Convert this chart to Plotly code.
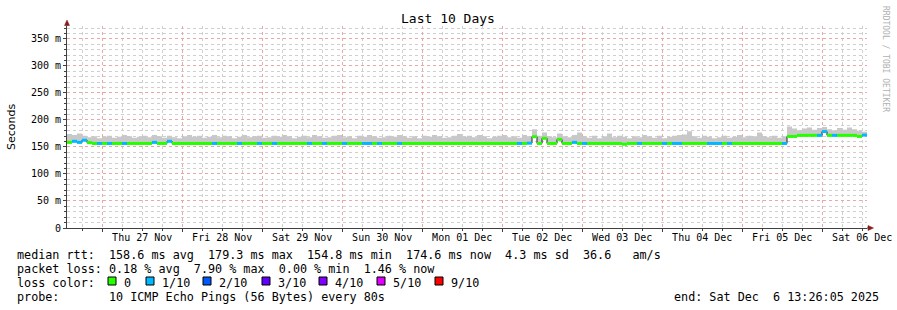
import numpy as np
import pandas as pd
import plotly.graph_objects as go

# ---------------- data ----------------
start_time = "2025-11-26 13:26:05"
end_time = "2025-12-06 13:26:05"
bin_minutes = 90

median_ms = [
    158.5, 160.5, 158.5, 162.5, 158.0, 156.5, 156.5, 156.5, 156.5, 156.5,
    156.5, 156.5, 156.5, 156.5, 156.5, 156.5, 156.5, 158.5, 156.5, 156.5,
    160.5, 156.5, 156.5, 156.5, 156.5, 156.5, 156.5, 156.5, 156.5, 156.5,
    156.5, 156.5, 156.5, 156.5, 156.5, 156.5, 156.5, 156.5, 156.5, 156.5,
    156.5, 156.5, 156.5, 156.5, 156.5, 156.5, 156.5, 156.5, 156.5, 156.5,
    156.5, 156.5, 156.5, 156.5, 156.5, 156.5, 156.5, 156.5, 156.5, 156.5,
    156.5, 156.5, 156.5, 156.5, 156.5, 156.5, 156.5, 156.5, 156.5, 156.5,
    156.5, 156.5, 156.5, 156.5, 156.5, 156.5, 156.5, 156.5, 156.5, 156.5,
    156.5, 156.5, 156.5, 156.5, 156.5, 156.5, 156.5, 156.5, 156.5, 156.5,
    156.5, 156.5, 157.0, 169.0, 156.5, 166.0, 156.5, 156.5, 164.0, 156.5,
    156.5, 158.5, 156.5, 156.5, 156.5, 156.5, 156.5, 156.5, 156.5, 156.5,
    156.5, 155.0, 156.5, 156.5, 156.5, 156.5, 156.5, 156.5, 156.5, 156.5,
    156.5, 156.5, 156.5, 156.5, 156.5, 156.5, 156.5, 156.5, 156.5, 156.5,
    156.5, 156.5, 156.5, 156.5, 156.5, 156.5, 156.5, 156.5, 156.5, 156.5,
    156.5, 156.5, 156.5, 156.5, 169.5, 169.5, 171.5, 171.5, 171.5, 171.5,
    171.5, 178.5, 171.5, 171.5, 171.5, 171.5, 171.5, 171.5, 169.5, 172.0,
]

smoke_max_ms = [
    174, 172, 175, 171, 168, 170, 166, 169, 171, 167,
    169, 172, 170, 167, 169, 171, 168, 172, 170, 167,
    171, 168, 166, 170, 172, 169, 171, 167, 169, 172,
    168, 171, 170, 166, 169, 172, 168, 170, 171, 167,
    168, 171, 169, 172, 170, 166, 169, 171, 168, 172,
    170, 167, 168, 171, 172, 168, 170, 166, 171, 169,
    172, 170, 167, 168, 171, 169, 172, 170, 167, 170,
    166, 171, 169, 172, 170, 167, 168, 171, 174, 169,
    171, 168, 172, 170, 166, 169, 171, 172, 168, 170,
    167, 172, 170, 183, 171, 177, 170, 168, 175, 170,
    168, 172, 177, 170, 167, 171, 166, 170, 175, 168,
    171, 169, 166, 170, 168, 172, 170, 167, 171, 166,
    169, 171, 172, 173, 179, 170, 167, 171, 169, 166,
    168, 171, 167, 169, 172, 168, 171, 170, 177, 170,
    168, 171, 167, 170, 188, 184, 181, 184, 186, 182,
    185, 187, 183, 181, 185, 182, 186, 183, 180, 178,
]

loss_count = [
    0, 1, 1, 1, 0, 0, 1, 0, 1, 0,
    0, 1, 0, 0, 0, 0, 0, 1, 0, 0,
    1, 0, 0, 0, 0, 0, 0, 0, 0, 1,
    0, 0, 0, 0, 1, 0, 0, 0, 1, 0,
    0, 1, 0, 0, 0, 0, 0, 0, 1, 0,
    0, 1, 0, 0, 0, 1, 0, 0, 0, 1,
    1, 0, 1, 0, 0, 0, 1, 0, 0, 0,
    0, 0, 0, 0, 0, 0, 0, 0, 0, 0,
    0, 0, 0, 0, 0, 0, 0, 0, 0, 0,
    1, 0, 1, 0, 0, 0, 0, 0, 0, 0,
    0, 1, 0, 1, 0, 0, 0, 0, 0, 0,
    0, 0, 0, 0, 1, 0, 0, 0, 0, 1,
    0, 1, 1, 0, 0, 0, 0, 0, 1, 1,
    1, 0, 1, 0, 0, 0, 0, 0, 0, 0,
    0, 0, 0, 1, 0, 0, 0, 0, 0, 0,
    1, 1, 0, 1, 0, 0, 0, 0, 0, 1,
]

loss_levels = [0, 1, 2, 3, 4, 5, 9]
loss_labels = ["0", "1/10", "2/10", "3/10", "4/10", "5/10", "9/10"]
loss_colors = ["#26ff00", "#00b8ff", "#0059ff", "#5e00ff", "#7e00ff", "#dd00ff", "#ff0000"]

day_labels = ["Thu 27 Nov", "Fri 28 Nov", "Sat 29 Nov", "Sun 30 Nov", "Mon 01 Dec",
              "Tue 02 Dec", "Wed 03 Dec", "Thu 04 Dec", "Fri 05 Dec", "Sat 06 Dec"]
y_ticks = [0, 50, 100, 150, 200, 250, 300, 350]
y_ticktext = ["0", "50 m", "100 m", "150 m", "200 m", "250 m", "300 m", "350 m"]

stats_lines = [
    "median rtt:  158.6 ms avg  179.3 ms max  154.8 ms min  174.6 ms now  4.3 ms sd  36.6   am/s",
    "packet loss: 0.18 % avg  7.90 % max  0.00 % min  1.46 % now",
]
probe_line = "probe:       10 ICMP Echo Pings (56 Bytes) every 80s"
end_line = "end: Sat Dec  6 13:26:05 2025"

# ---------------- derived ----------------
t0 = pd.Timestamp(start_time)
t1 = pd.Timestamp(end_time)
n = len(median_ms)
edges = [t0 + pd.Timedelta(minutes=bin_minutes * i) for i in range(n + 1)]
med_step = median_ms + [median_ms[-1]]
max_step = smoke_max_ms + [smoke_max_ms[-1]]
noons = [pd.Timestamp("2025-11-27 12:00") + pd.Timedelta(days=i) for i in range(len(day_labels))]

MONO = "DejaVu Sans Mono"
L, R, T, B = 67, 30, 26, 82
W, H = 897, 310
PW, PH = W - L - R, H - T - B


def px(x):
    return (x - L) / PW


def py(y):
    return (H - B - y) / PH


def nb(s):
    return s.replace(" ", "\u00a0")


fig = go.Figure()

# smoke (gray) from median to max
fig.add_trace(go.Scatter(x=edges, y=med_step, mode="lines", line=dict(width=0, shape="hv"),
                         hoverinfo="skip", showlegend=False))
fig.add_trace(go.Scatter(x=edges, y=max_step, mode="lines", line=dict(width=0, shape="hv"),
                         fill="tonexty", fillcolor="#c8c8c8", hoverinfo="skip", showlegend=False))
# thin dark median connector
fig.add_trace(go.Scatter(x=edges, y=med_step, mode="lines", line=dict(width=1, color="#202020", shape="hv"),
                         hoverinfo="skip", showlegend=False))

# colored median segments by loss (break where level or value changes)
for lev, col in zip(loss_levels, loss_colors):
    xs, ys = [], []
    for i in range(n):
        if loss_count[i] != lev:
            continue
        xs += [edges[i], edges[i + 1]]
        ys += [median_ms[i], median_ms[i]]
        cont = (i + 1 < n and loss_count[i + 1] == lev and median_ms[i + 1] == median_ms[i])
        if not cont:
            xs.append(None)
            ys.append(None)
    if xs:
        fig.add_trace(go.Scatter(x=xs, y=ys, mode="lines", line=dict(width=3, color=col),
                                 connectgaps=False, hoverinfo="skip", showlegend=False))

# dummy trace for label axis
fig.add_trace(go.Scatter(x=[t0, t1], y=[None, None], xaxis="x2", mode="lines", showlegend=False))

grid_red = "#e8a8a8"
grid_gray = "#cfcfcf"
axis_col = "#404040"

fig.update_layout(
    width=W, height=H,
    margin=dict(l=L, r=R, t=T, b=B, pad=0, autoexpand=False),
    paper_bgcolor="white", plot_bgcolor="white",
    showlegend=False,
    font=dict(family=MONO, size=10, color="#000000"),
    xaxis=dict(
        range=[t0, t1], type="date", automargin=False,
        tickmode="linear", tick0="2025-11-27 00:00", dtick=86400000,
        showticklabels=False,
        showgrid=True, gridcolor=grid_red, griddash="dot", gridwidth=1,
        ticks="outside", ticklen=3, tickcolor=axis_col,
        showline=True, linecolor=axis_col, linewidth=1,
        minor=dict(tickmode="linear", tick0="2025-11-26 18:00", dtick=21600000,
                   showgrid=True, gridcolor=grid_gray, griddash="dot", gridwidth=1,
                   ticks="outside", ticklen=2, tickcolor=axis_col),
        zeroline=False, fixedrange=True,
    ),
    xaxis2=dict(
        range=[t0, t1], type="date", overlaying="x", anchor="y", side="bottom", automargin=False,
        tickmode="array", tickvals=noons, ticktext=day_labels,
        showgrid=False, ticks="", showline=False, zeroline=False,
        tickfont=dict(family=MONO, size=10, color="#000000"),
        ticklabelstandoff=2,
    ),
    yaxis=dict(
        range=[0, 374], automargin=False,
        tickmode="array", tickvals=y_ticks, ticktext=y_ticktext,
        showgrid=True, gridcolor=grid_red, griddash="dot", gridwidth=1,
        ticks="outside", ticklen=3, tickcolor=axis_col,
        showline=True, linecolor=axis_col, linewidth=1,
        minor=dict(tickmode="linear", tick0=0, dtick=10,
                   showgrid=True, gridcolor=grid_gray, griddash="dot", gridwidth=1,
                   ticks="outside", ticklen=2, tickcolor=axis_col),
        zeroline=False, fixedrange=True,
        tickfont=dict(family=MONO, size=10, color="#000000"),
    ),
)

ann = []
ann.append(dict(text="Last 10 Days", x=px(448), y=py(19), xref="paper", yref="paper",
                showarrow=False, xanchor="center", yanchor="middle",
                font=dict(family=MONO, size=13, color="#000000")))
ann.append(dict(text="Seconds", x=px(11), y=py(127), xref="paper", yref="paper",
                showarrow=False, xanchor="center", yanchor="middle", textangle=-90,
                font=dict(family="DejaVu Sans", size=11, color="#000000")))
ann.append(dict(text=nb("RRDTOOL / TOBI OETIKER"), x=px(886), y=py(59), xref="paper", yref="paper",
                showarrow=False, xanchor="center", yanchor="middle", textangle=90,
                font=dict(family=MONO, size=8, color="#b0b0b0")))
for k, line in enumerate(stats_lines):
    ann.append(dict(text=nb(line), x=px(15), y=py(255 + 13.7 * k), xref="paper", yref="paper",
                    showarrow=False, xanchor="left", yanchor="middle",
                    font=dict(family=MONO, size=11.75, color="#000000")))
ann.append(dict(text=nb("loss color:"), x=px(15), y=py(282.5), xref="paper", yref="paper",
                showarrow=False, xanchor="left", yanchor="middle",
                font=dict(family=MONO, size=11.75, color="#000000")))
ann.append(dict(text=nb(probe_line), x=px(15), y=py(296.5), xref="paper", yref="paper",
                showarrow=False, xanchor="left", yanchor="middle",
                font=dict(family=MONO, size=11.75, color="#000000")))
ann.append(dict(text=nb(end_line), x=px(881), y=py(296.5), xref="paper", yref="paper",
                showarrow=False, xanchor="right", yanchor="middle",
                font=dict(family=MONO, size=11.75, color="#000000")))

swatch_x = [108, 146, 203, 262, 319, 377, 435]
shapes = []
for sx, lab, col in zip(swatch_x, loss_labels, loss_colors):
    shapes.append(dict(type="rect", xref="paper", yref="paper",
                       x0=px(sx), x1=px(sx + 8), y0=py(285), y1=py(277),
                       fillcolor=col, line=dict(color="#000000", width=1)))
    ann.append(dict(text=lab, x=px(sx + 13.5), y=py(282.5), xref="paper", yref="paper",
                    showarrow=False, xanchor="left", yanchor="middle",
                    font=dict(family=MONO, size=11.75, color="#000000")))

arrow_col = "#8b1a1a"
shapes.append(dict(type="path", xref="paper", yref="paper", fillcolor=arrow_col,
                   line=dict(color=arrow_col, width=0.5),
                   path=f"M {px(64.5)} {py(25.5)} L {px(69.5)} {py(25.5)} L {px(67)} {py(20)} Z"))
shapes.append(dict(type="path", xref="paper", yref="paper", fillcolor=arrow_col,
                   line=dict(color=arrow_col, width=0.5),
                   path=f"M {px(868)} {py(225.5)} L {px(868)} {py(230.5)} L {px(873.5)} {py(228)} Z"))
shapes.append(dict(type="line", xref="paper", yref="paper", x0=px(67), x1=px(67), y0=py(26), y1=py(25),
                   line=dict(color=axis_col, width=1)))
shapes.append(dict(type="line", xref="paper", yref="paper", x0=px(867), x1=px(868), y0=py(228), y1=py(228),
                   line=dict(color=axis_col, width=1)))

fig.update_layout(annotations=ann, shapes=shapes)
fig.write_html("out.html")
